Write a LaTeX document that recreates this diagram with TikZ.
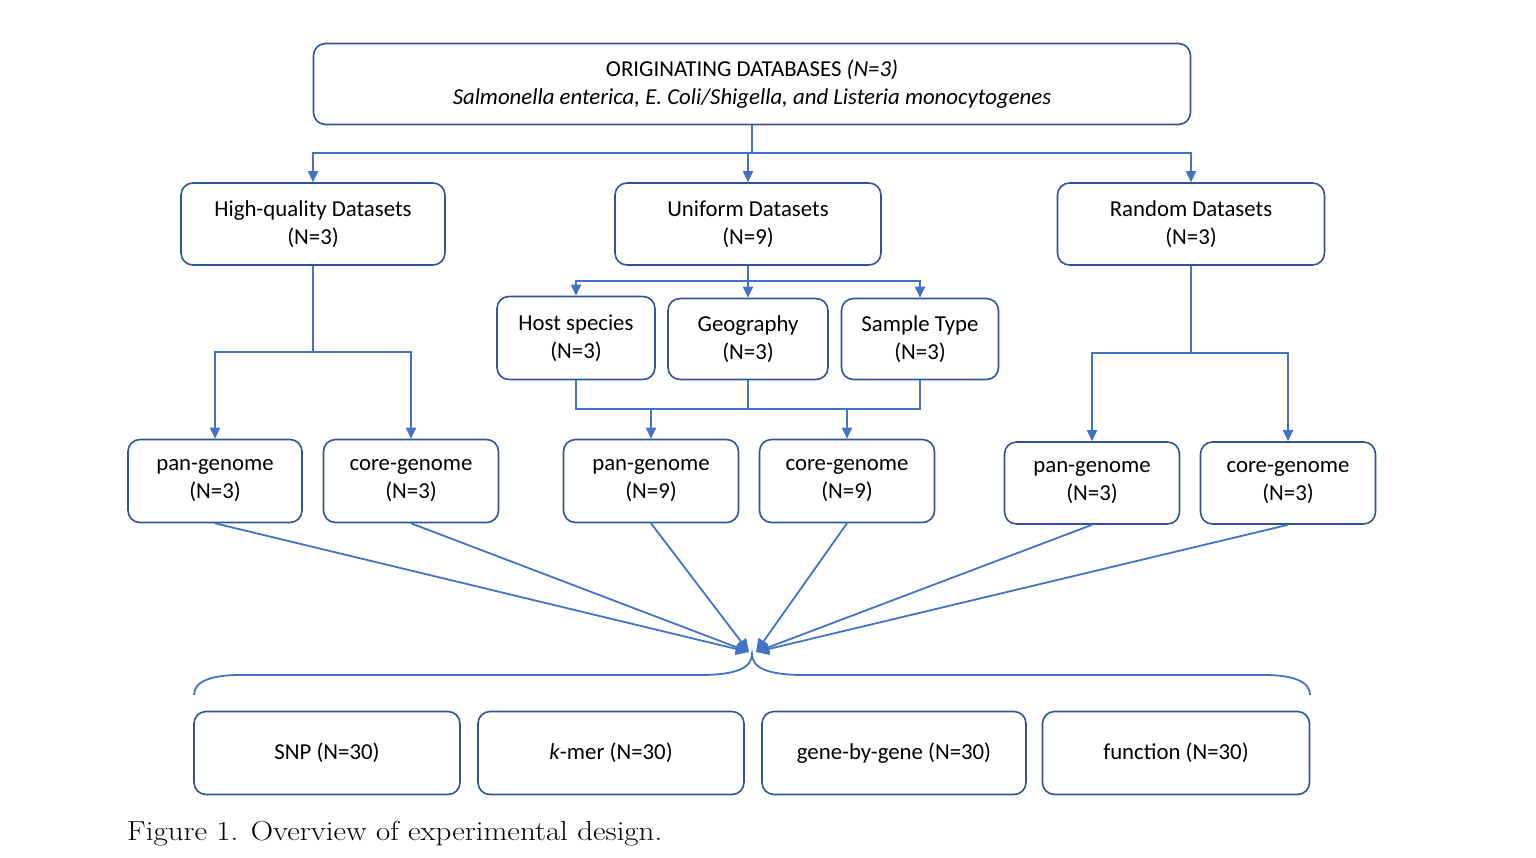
\documentclass[tikz,border=0pt]{standalone}
\usepackage{fontspec}
\setmainfont{Carlito}
\newfontfamily\capfont{Latin Modern Roman}
\usetikzlibrary{arrows.meta}
\definecolor{linec}{HTML}{4472C4}
\definecolor{boxc}{HTML}{2F5597}
\tikzset{
  box/.style={draw=boxc, line width=1.6pt, rounded corners=12pt, align=center,
    font=\fontsize{22.8}{28}\selectfont, inner sep=0pt, text=black},
  conn/.style={draw=linec, line width=1.8pt},
  arr/.style={conn, -{Triangle[length=11pt,width=10pt]}},
  bigarr/.style={conn, -{Triangle[length=13pt,width=12pt]}},
}
\begin{document}
\begin{tikzpicture}[x=1pt,y=-1pt]
\useasboundingbox (0,0) rectangle (1536,857);
% boxes
\node[box, minimum width=877pt, minimum height=81pt] (top) at (752,84)
  {ORIGINATING DATABASES \textit{(N=3)}\\\textit{Salmonella enterica, E. Coli/Shigella, and Listeria monocytogenes}};
\node[box, minimum width=264pt, minimum height=82pt] (hq) at (313,224) {High-quality Datasets\\(N=3)};
\node[box, minimum width=266pt, minimum height=82pt] (uni) at (748,224) {Uniform Datasets\\(N=9)};
\node[box, minimum width=267pt, minimum height=82pt] (rnd) at (1191,224) {Random Datasets\\(N=3)};
\node[box, minimum width=158pt, minimum height=83pt] (host) at (576,338) {Host species\\(N=3)};
\node[box, minimum width=160pt, minimum height=81pt] (geo) at (748,339) {Geography\\(N=3)};
\node[box, minimum width=157pt, minimum height=81pt] (samp) at (920,339) {Sample Type\\(N=3)};
\node[box, minimum width=174pt, minimum height=83pt] (pan1) at (215,481) {pan-genome\\(N=3)};
\node[box, minimum width=175pt, minimum height=83pt] (core1) at (411,481) {core-genome\\(N=3)};
\node[box, minimum width=175pt, minimum height=83pt] (pan2) at (651,481) {pan-genome\\(N=9)};
\node[box, minimum width=175pt, minimum height=83pt] (core2) at (847,481) {core-genome\\(N=9)};
\node[box, minimum width=175pt, minimum height=82pt] (pan3) at (1092,483) {pan-genome\\(N=3)};
\node[box, minimum width=175pt, minimum height=82pt] (core3) at (1288,483) {core-genome\\(N=3)};
\node[box, minimum width=266pt, minimum height=83pt] (snp) at (327,753) {\raisebox{-1.5pt}{SNP (N=30)}};
\node[box, minimum width=266pt, minimum height=83pt] (kmer) at (611,753) {\raisebox{-1.5pt}{\textit{k}-mer (N=30)}};
\node[box, minimum width=264pt, minimum height=83pt] (gbg) at (894,753) {\raisebox{-1.5pt}{gene-by-gene (N=30)}};
\node[box, minimum width=267pt, minimum height=83pt] (func) at (1176,753) {\raisebox{-1.5pt}{function (N=30)}};
% top split
\coordinate (j1) at (752,153);
\draw[conn] (top.south) -- (j1);
\draw[arr] (j1) -| (hq.north);
\draw[arr] (j1) -| (rnd.north);
\draw[arr] (uni.north |- j1) -- (uni.north);
% uniform split
\coordinate (j2) at (748,281);
\draw[conn] (uni.south) -- (j2);
\draw[arr] (j2) -| (host.north);
\draw[arr] (j2) -| (samp.north);
\draw[arr] (j2) -- (geo.north);
% uniform merge
\coordinate (j3) at (748,409);
\draw[conn] (host.south) |- (samp.south |- j3) -- (samp.south);
\draw[conn] (geo.south) -- (j3);
\draw[arr] (pan2.north |- j3) -- (pan2.north);
\draw[arr] (core2.north |- j3) -- (core2.north);
% high quality split
\coordinate (j4) at (313,352);
\draw[conn] (hq.south) -- (j4);
\draw[arr] (j4) -| (pan1.north);
\draw[arr] (j4) -| (core1.north);
% random split
\coordinate (j5) at (1191,353);
\draw[conn] (rnd.south) -- (j5);
\draw[arr] (j5) -| (pan3.north);
\draw[arr] (j5) -| (core3.north);
% convergence
\coordinate (cL) at (749,652);
\coordinate (cR) at (756,652);
\draw[bigarr] (pan1.south) -- (cL);
\draw[bigarr] (core1.south) -- (cL);
\draw[bigarr] (pan2.south) -- (cL);
\draw[bigarr] (core2.south) -- (cR);
\draw[bigarr] (pan3.south) -- (cR);
\draw[bigarr] (core3.south) -- (cR);
% brace
\draw[conn] (194,695) .. controls (194,681) and (212,675) .. (240,675) -- (700,675)
  .. controls (736,675) and (752,668) .. (752,654)
  .. controls (752,668) and (768,675) .. (804,675) -- (1264,675)
  .. controls (1292,675) and (1310,681) .. (1310,695);
% caption
\node[anchor=base west, inner sep=0pt, font=\capfont\fontsize{27.5}{30}\selectfont] (cap) at (127,840)
  {\scalebox{1.125}[1]{Figure 1. Overview of experimental design.}};
\end{tikzpicture}
\end{document}
